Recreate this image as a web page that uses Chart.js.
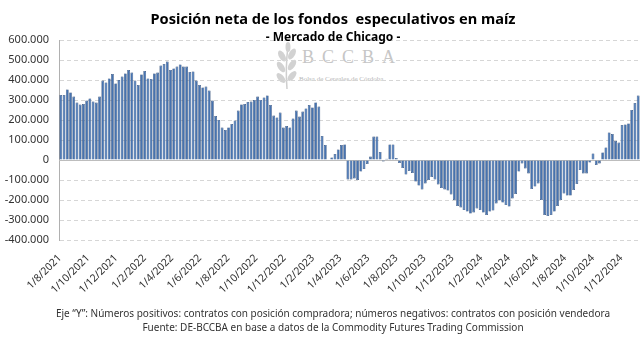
<!DOCTYPE html>
<html>
<head>
<meta charset="utf-8">
<script src="https://cdn.jsdelivr.net/npm/chart.js@4.4.1/dist/chart.umd.min.js"></script>
<style>
  body { margin: 0; background: #fff; }
  #wrap { position: relative; width: 640px; height: 338px; font-family: "Noto Sans", Arial, sans-serif; overflow: hidden; }
  #wrap canvas { position: absolute; left: 0; top: 0; }
  .txt { position: absolute; left: 0; width: 666px; text-align: center; color: #000; white-space: pre; }
  #title { top: 8px; font-size: 14.6px; font-weight: bold; }
  #subtitle { top: 28px; font-size: 12px; font-weight: bold; }
  .note { font-size: 10px; color: #333; }
  #mark { position: absolute; left: 274px; top: 42px; width: 130px; height: 50px; color: #c6c6c6; font-family: "Liberation Serif", "DejaVu Serif", serif; }
  #mark .big { position: absolute; left: 28px; top: 5px; font-size: 18px; letter-spacing: 8px; }
  #mark .small { position: absolute; left: 25px; top: 33px; font-size: 7px; color: #b8b8b8; white-space: nowrap; }
  #mark svg { position: absolute; left: 0; top: 0; }
</style>
</head>
<body>
<div id="wrap">
  <div id="mark">
    <svg width="24" height="48" viewBox="0 0 24 48">
      <path d="M13 47 C 12 35, 12 20, 14 4" stroke="#cfcfcf" stroke-width="1.5" fill="none"/>
      <ellipse cx="8" cy="14" rx="3" ry="6" transform="rotate(-30 8 14)" fill="#d2d2d2"/>
      <ellipse cx="18" cy="12" rx="3" ry="6" transform="rotate(30 18 12)" fill="#d2d2d2"/>
      <ellipse cx="7" cy="25" rx="3" ry="6" transform="rotate(-35 7 25)" fill="#d2d2d2"/>
      <ellipse cx="18" cy="23" rx="3" ry="6" transform="rotate(35 18 23)" fill="#d2d2d2"/>
      <ellipse cx="7" cy="36" rx="3" ry="6" transform="rotate(-40 7 36)" fill="#d2d2d2"/>
      <ellipse cx="18" cy="34" rx="3" ry="6" transform="rotate(40 18 34)" fill="#d2d2d2"/>
      <ellipse cx="14" cy="5" rx="2.5" ry="5" fill="#d2d2d2"/>
    </svg>
    <div class="big">BCCBA</div>
    <div class="small">Bolsa de Cereales de Córdoba</div>
  </div>
  <canvas id="cornChart" width="640" height="338"></canvas>
  <div class="txt" id="title">Posición neta de los fondos  especulativos en maíz</div>
  <div class="txt" id="subtitle">- Mercado de Chicago -</div>
  <div class="txt note" style="top:306px">Eje “Y”: Números positivos: contratos con posición compradora; números negativos: contratos con posición vendedora</div>
  <div class="txt note" style="top:320px">Fuente: DE-BCCBA en base a datos de la Commodity Futures Trading Commission</div>
</div>
<script>
// weekly reports, first one on 3/8/2021
const firstReport = Date.UTC(2021, 7, 3);
const axisOrigin = Date.UTC(2021, 7, 1);

// net position, thousands of contracts
const netPositionK = [
  325, 325, 353, 338, 317, 287, 277, 280, 297, 308,
  292, 287, 317, 397, 388, 408, 430, 383, 400, 417,
  433, 450, 437, 397, 375, 428, 445, 408, 405, 433,
  437, 472, 480, 492, 450, 458, 467, 478, 467, 467,
  440, 443, 397, 375, 363, 367, 347, 297, 220, 200,
  162, 150, 163, 180, 197, 247, 278, 280, 290, 292,
  300, 317, 300, 313, 323, 275, 222, 213, 237, 162,
  170, 163, 208, 247, 217, 242, 258, 275, 263, 288,
  267, 120, 75, 3, 13, 30, 53, 75, 78, -97,
  -97, -92, -100, -58, -45, -20, 17, 117, 117, 40,
  -8, 6, 78, 78, 10, -15, -40, -73, -55, -65,
  -108, -128, -147, -117, -100, -85, -97, -122, -140, -147,
  -153, -172, -200, -230, -237, -250, -258, -268, -262, -242,
  -250, -263, -275, -258, -253, -217, -203, -213, -225, -233,
  -192, -170, -58, -17, -42, -67, -145, -133, -117, -200,
  -275, -280, -275, -258, -230, -200, -167, -178, -178, -150,
  -120, -50, -67, -67, -13, 33, -25, -17, 38, 63,
  138, 130, 95, 87, 175, 178, 183, 250, 285, 322
];

const xTickLabels = ['1/8/2021', '1/10/2021', '1/12/2021', '1/2/2022', '1/4/2022', '1/6/2022',
  '1/8/2022', '1/10/2022', '1/12/2022', '1/2/2023', '1/4/2023', '1/6/2023', '1/8/2023',
  '1/10/2023', '1/12/2023', '1/2/2024', '1/4/2024', '1/6/2024', '1/8/2024', '1/10/2024', '1/12/2024'];

const yMin = -400, yMax = 600, yStep = 100;

const DAY = 86400000;
const dayOf = t => (t - axisOrigin) / DAY;
const reportDays = netPositionK.map((_, i) => dayOf(firstReport) + 7 * i);
const tickDays = xTickLabels.map(s => {
  const [d, m, y] = s.split('/').map(Number);
  return dayOf(Date.UTC(y, m - 1, d));
});

const fmt = v => v === 0 ? '0' : v + '.000';

const zeroLine = {
  id: 'zeroLine',
  beforeDatasetsDraw(chart) {
    const { ctx, chartArea, scales } = chart;
    const y0 = Math.round(scales.y.getPixelForValue(0)) + 0.5;
    ctx.save();
    ctx.strokeStyle = '#bdbdbd';
    ctx.lineWidth = 1;
    ctx.beginPath();
    ctx.moveTo(chartArea.left, y0);
    ctx.lineTo(chartArea.right, y0);
    ctx.stroke();
    ctx.restore();
  }
};

const ctx = document.getElementById('cornChart').getContext('2d');
new Chart(ctx, {
  type: 'bar',
  data: {
    datasets: [{
      data: netPositionK.map((v, i) => ({ x: reportDays[i], y: v })),
      backgroundColor: '#4673b0',
      borderColor: '#1f3d6b',
      borderWidth: 0.6,
      categoryPercentage: 1,
      barPercentage: 0.86
    }]
  },
  options: {
    responsive: false,
    animation: false,
    devicePixelRatio: 1,
    layout: { padding: { top: 40, left: 0, right: 0, bottom: 0 } },
    plugins: { legend: { display: false }, tooltip: { enabled: false } },
    scales: {
      x: {
        type: 'linear',
        offset: false,
        min: dayOf(firstReport) - 4,
        max: reportDays[reportDays.length - 1] + 4,
        afterBuildTicks: s => { s.ticks = tickDays.map(v => ({ value: v })); },
        afterFit: s => { s.height = 98; },
        grid: { display: false, offset: false },
        border: { display: false },
        ticks: {
          autoSkip: false,
          minRotation: 45,
          maxRotation: 45,
          padding: 4,
          color: '#333',
          font: { family: 'Noto Sans', size: 10.5 },
          callback: (v, i) => xTickLabels[i]
        }
      },
      y: {
        min: yMin,
        max: yMax,
        afterFit: s => { s.width = 59; },
        grid: { color: '#d6d6d6', drawTicks: false },
        border: { display: true, color: '#b0b0b0', width: 1, dash: [4, 3] },
        ticks: {
          stepSize: yStep,
          padding: 10,
          color: '#333',
          font: { family: 'Noto Sans', size: 11 },
          callback: v => fmt(v)
        }
      }
    }
  },
  plugins: [zeroLine]
});
</script>
</body>
</html>
